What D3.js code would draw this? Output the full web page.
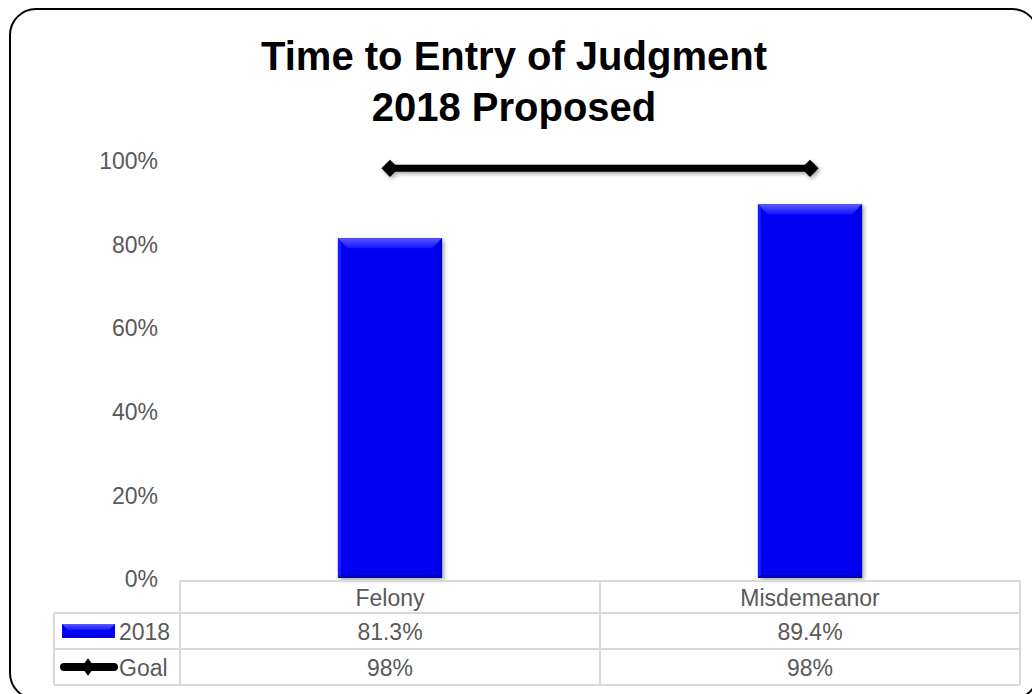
<!DOCTYPE html>
<html>
<head>
    <meta charset="utf-8">
    <title>Time to Entry of Judgment</title>
    <script src="https://d3js.org/d3.v7.min.js"></script>
    <style>
        body { margin: 0; background: #fff; }
        text { font-family: Arial, "Liberation Sans", sans-serif; }
    </style>
</head>
<body>
    <div id="chart"></div>
    <script>
        // data
        const categories = ["Felony", "Misdemeanor"];
        const values2018 = [0.813, 0.894];
        const goalValues = [0.98, 0.98];
        const labels2018 = ["81.3%", "89.4%"];
        const labelsGoal = ["98%", "98%"];
        const yTicks = [0, 0.2, 0.4, 0.6, 0.8, 1.0];

        const width = 1032, height = 694;
        const plot = {left: 180, right: 1020, top: 160, bottom: 578};
        const fs = 23;

        const svg = d3.select("#chart")
          .append("svg")
            .attr("width", width)
            .attr("height", height);

        const defs = svg.append("defs");
        const shadow = defs.append("filter").attr("id", "shadow")
            .attr("x", "-20%").attr("y", "-20%").attr("width", "140%").attr("height", "140%");
        shadow.append("feDropShadow")
            .attr("dx", 2).attr("dy", 2).attr("stdDeviation", 2)
            .attr("flood-color", "#000").attr("flood-opacity", 0.35);

        const topGrad = defs.append("linearGradient").attr("id", "topbev")
            .attr("x1", 0).attr("y1", 0).attr("x2", 0).attr("y2", 1);
        topGrad.append("stop").attr("offset", "0%").attr("stop-color", "#5a5aff");
        topGrad.append("stop").attr("offset", "100%").attr("stop-color", "#1414ff");

        // outer rounded border
        svg.append("rect")
            .attr("x", 10).attr("y", 9)
            .attr("width", 1028).attr("height", 690)
            .attr("rx", 26).attr("ry", 26)
            .attr("fill", "none")
            .attr("stroke", "#000")
            .attr("stroke-width", 2);

        // title
        const title = svg.append("text")
            .attr("text-anchor", "middle")
            .attr("font-size", 40)
            .attr("font-weight", "bold")
            .attr("fill", "#000");
        title.append("tspan").attr("x", 514).attr("y", 70).text("Time to Entry of Judgment");
        title.append("tspan").attr("x", 514).attr("y", 121).text("2018 Proposed");

        const x = d3.scaleBand()
            .domain(categories)
            .range([plot.left, plot.right]);

        const y = d3.scaleLinear()
            .domain([0, 1])
            .range([plot.bottom, plot.top]);

        // y axis labels
        svg.append("g")
          .selectAll("text")
          .data(yTicks)
          .join("text")
            .attr("x", 158)
            .attr("y", d => y(d) + 1)
            .attr("dy", "0.36em")
            .attr("text-anchor", "end")
            .attr("font-size", fs)
            .attr("fill", "#595959")
            .text(d => d3.format(".0%")(d));

        // bars with bevel
        const barW = x.bandwidth() * 0.248;
        const bev = 10;
        const bars = svg.append("g")
          .selectAll("g")
          .data(categories.map((c, i) => ({c, v: values2018[i]})))
          .join("g");

        bars.append("rect")
            .attr("x", d => x(d.c) + x.bandwidth() / 2 - barW / 2)
            .attr("y", d => y(d.v))
            .attr("width", barW)
            .attr("height", d => y(0) - y(d.v))
            .attr("fill", "#0000f2")
            .attr("filter", "url(#shadow)");

        // top bevel
        bars.append("polygon")
            .attr("points", d => {
                const x0 = x(d.c) + x.bandwidth() / 2 - barW / 2, x1 = x0 + barW, t = y(d.v);
                return [[x0, t], [x1, t], [x1 - bev, t + bev], [x0 + bev, t + bev]].join(" ");
            })
            .attr("fill", "url(#topbev)");
        // side bevels
        bars.append("polygon")
            .attr("points", d => {
                const x0 = x(d.c) + x.bandwidth() / 2 - barW / 2, t = y(d.v), b = y(0);
                return [[x0, t], [x0 + 3, t + 3], [x0 + 3, b - 3], [x0, b]].join(" ");
            })
            .attr("fill", "#1a1aff");
        bars.append("polygon")
            .attr("points", d => {
                const x1 = x(d.c) + x.bandwidth() / 2 + barW / 2, t = y(d.v), b = y(0);
                return [[x1, t], [x1 - 3, t + 3], [x1 - 3, b - 3], [x1, b]].join(" ");
            })
            .attr("fill", "#0000cc");
        bars.append("polygon")
            .attr("points", d => {
                const x0 = x(d.c) + x.bandwidth() / 2 - barW / 2, x1 = x0 + barW, b = y(0);
                return [[x0, b], [x1, b], [x1 - 3, b - 3], [x0 + 3, b - 3]].join(" ");
            })
            .attr("fill", "#0000b0");

        // goal line
        const goal = categories.map((c, i) => ({c, v: goalValues[i]}));
        const goalG = svg.append("g").attr("filter", "url(#shadow)");
        goalG.append("path")
            .datum(goal)
            .attr("fill", "none")
            .attr("stroke", "#000")
            .attr("stroke-width", 7)
            .attr("d", d3.line()
                .x(d => x(d.c) + x.bandwidth() / 2)
                .y(d => y(d.v)));
        goalG.selectAll("path.m")
            .data(goal)
            .join("path")
            .attr("class", "m")
            .attr("transform", d => `translate(${x(d.c) + x.bandwidth() / 2},${y(d.v)})`)
            .attr("d", d3.symbol(d3.symbolDiamond2, 190))
            .attr("fill", "#000");

        // data table
        const row0 = 581, rowH = [32, 36, 36];
        const rowY = [row0, row0 + rowH[0], row0 + rowH[0] + rowH[1], row0 + rowH[0] + rowH[1] + rowH[2]];
        const tblLeft = 54;
        const grid = svg.append("g")
            .attr("stroke", "#d9d9d9")
            .attr("stroke-width", 2)
            .attr("fill", "none");
        // horizontal lines
        grid.append("line").attr("x1", plot.left).attr("x2", plot.right).attr("y1", rowY[0]).attr("y2", rowY[0]);
        [1, 2, 3].forEach(i => {
            grid.append("line").attr("x1", tblLeft).attr("x2", plot.right).attr("y1", rowY[i]).attr("y2", rowY[i]);
        });
        // vertical lines
        grid.append("line").attr("x1", tblLeft).attr("x2", tblLeft).attr("y1", rowY[1]).attr("y2", rowY[3]);
        grid.append("line").attr("x1", plot.left).attr("x2", plot.left).attr("y1", rowY[0]).attr("y2", rowY[3]);
        categories.forEach(c => {
            const xe = x(c) + x.bandwidth();
            grid.append("line").attr("x1", xe).attr("x2", xe).attr("y1", rowY[0]).attr("y2", rowY[3]);
        });

        const cell = (txt, cx, cy) => svg.append("text")
            .attr("x", cx).attr("y", cy)
            .attr("dy", "0.36em")
            .attr("text-anchor", "middle")
            .attr("font-size", fs)
            .attr("fill", "#595959")
            .text(txt);

        categories.forEach((c, i) => {
            const cx = x(c) + x.bandwidth() / 2;
            cell(c, cx, (rowY[0] + rowY[1]) / 2 + 1);
            cell(labels2018[i], cx, (rowY[1] + rowY[2]) / 2 + 1);
            cell(labelsGoal[i], cx, (rowY[2] + rowY[3]) / 2 + 1);
        });

        // legend keys in table
        const ly1 = (rowY[1] + rowY[2]) / 2, ly2 = (rowY[2] + rowY[3]) / 2;
        svg.append("rect")
            .attr("x", 62).attr("y", ly1 - 7)
            .attr("width", 53).attr("height", 14)
            .attr("fill", "#0000f2");
        svg.append("polygon")
            .attr("points", [[62, ly1 - 7], [115, ly1 - 7], [109, ly1 - 1], [68, ly1 - 1]].join(" "))
            .attr("fill", "url(#topbev)");
        svg.append("line")
            .attr("x1", 64).attr("x2", 114)
            .attr("y1", ly2).attr("y2", ly2)
            .attr("stroke", "#000").attr("stroke-width", 8)
            .attr("stroke-linecap", "round");
        svg.append("path")
            .attr("transform", `translate(88,${ly2}) scale(0.8,1.1)`)
            .attr("d", d3.symbol(d3.symbolDiamond2, 160))
            .attr("fill", "#000");
        svg.append("text")
            .attr("x", 119).attr("y", ly1 + 1).attr("dy", "0.36em")
            .attr("font-size", fs).attr("fill", "#595959").text("2018");
        svg.append("text")
            .attr("x", 119).attr("y", ly2 + 1).attr("dy", "0.36em")
            .attr("font-size", fs).attr("fill", "#595959").text("Goal");
    </script>
</body>
</html>
